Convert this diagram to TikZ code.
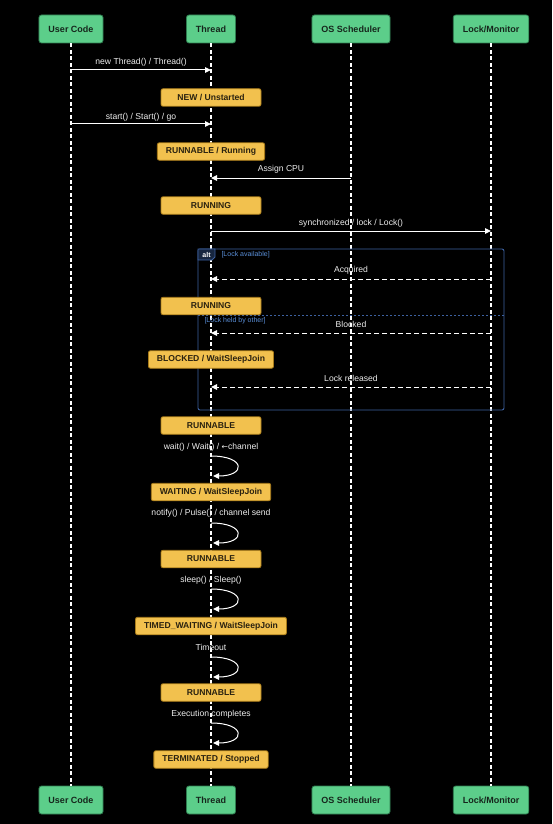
\documentclass[tikz,border=0pt]{standalone}
\usepackage{fontspec}
\setmainfont{Liberation Sans}
\newfontfamily\symfont{DejaVu Sans}
\usetikzlibrary{arrows.meta}
\definecolor{actorfill}{HTML}{5CCE8A}
\definecolor{actorline}{HTML}{2F7D50}
\definecolor{actortext}{HTML}{16261C}
\definecolor{statefill}{HTML}{F2C14E}
\definecolor{stateline}{HTML}{A87B1A}
\definecolor{statetext}{HTML}{2A2210}
\definecolor{msgtext}{HTML}{EDEDED}
\definecolor{altline}{HTML}{3D61A0}
\definecolor{altfill}{HTML}{17263F}
\definecolor{altblue}{HTML}{5A8FD8}

\begin{document}
\begin{tikzpicture}[x=1pt,y=-1pt,
  actor/.style={draw=actorline,fill=actorfill,rounded corners=2.5pt,line width=0.8pt,
    minimum height=28pt,inner xsep=9.5pt,text=actortext,font=\fontsize{9}{10}\selectfont\bfseries},
  state/.style={draw=stateline,fill=statefill,rounded corners=2pt,line width=0.8pt,
    minimum height=17.5pt,minimum width=100pt,inner xsep=8.5pt,text=statetext,
    font=\fontsize{8.6}{9}\selectfont\bfseries},
  life/.style={white,line width=1.1pt,dash pattern=on 4pt off 2.5pt},
  msg/.style={white,line width=1pt,-{Triangle[length=6pt,width=5.5pt]}},
  reply/.style={msg,dash pattern=on 5pt off 3pt},
  lbl/.style={text=msgtext,font=\fontsize{8.6}{9}\selectfont},
  cond/.style={text=altblue,anchor=west,font=\fontsize{7}{8}\selectfont},
]
\fill[black] (0,0) rectangle (552,824);
\useasboundingbox (0,0) rectangle (552,824);

% participants, top and bottom
\node[actor] (user) at (71,29) {User Code};
\node[actor] (thread) at (211,29) {Thread};
\node[actor] (os) at (351,29) {OS Scheduler};
\node[actor] (lock) at (491,29) {Lock/Monitor};
\node[actor] (userB) at (71,800) {User Code};
\node[actor] (threadB) at (211,800) {Thread};
\node[actor] (osB) at (351,800) {OS Scheduler};
\node[actor] (lockB) at (491,800) {Lock/Monitor};

\draw[life] (user.south) -- (userB.north);
\draw[life] (thread.south) -- (threadB.north);
\draw[life] (os.south) -- (osB.north);
\draw[life] (lock.south) -- (lockB.north);

% alt frame
\coordinate (F1) at (198,249);
\coordinate (F2) at (504,410);
\draw[altline,line width=0.9pt,rounded corners=2pt] (F1) rectangle (F2);
\filldraw[draw=altline,fill=altfill,line width=0.9pt] (F1) -- (215,249) -- (215,257) -- (212,260) -- (198,260) -- cycle;
\node[text=white,font=\fontsize{7}{8}\selectfont\bfseries] (alt) at (206.5,254.5) {alt};
\node[cond] (c1) at (218,254.5) {[Lock available]};
\draw[altline,line width=0.6pt,dash pattern=on 2pt off 2pt] (198,315) -- (504,315);
\node[cond] (c2) at (201,320.5) {[Lock held by other]};

% messages between lifelines
\coordinate (m1a) at (71,70);   \coordinate (m1b) at (211,70);
\coordinate (m2a) at (71,124);  \coordinate (m2b) at (211,124);
\coordinate (m3a) at (351,178); \coordinate (m3b) at (211,178);
\coordinate (m4a) at (211,231); \coordinate (m4b) at (491,231);
\coordinate (m5a) at (491,279); \coordinate (m5b) at (211,279);
\coordinate (m6a) at (491,333); \coordinate (m6b) at (211,333);
\coordinate (m7a) at (491,387); \coordinate (m7b) at (211,387);

\draw[msg] (m1a) -- (m1b);
\draw[msg] (m2a) -- (m2b);
\draw[msg] (m3a) -- (m3b);
\draw[msg] (m4a) -- (m4b);
\draw[reply] (m5a) -- (m5b);
\draw[reply] (m6a) -- (m6b);
\draw[reply] (m7a) -- (m7b);

\node[lbl] (t1) at (141,62) {new Thread() / Thread()};
\node[lbl] (t2) at (141,117) {start() / Start() / go};
\node[lbl] (t3) at (281,169) {Assign CPU};
\node[lbl] (t4) at (351,223) {synchronized / lock / Lock()};
\node[lbl] (t5) at (351,270) {Acquired};
\node[lbl] (t6) at (351,324) {Blocked};
\node[lbl] (t7) at (351,378) {Lock released};

% self loops on Thread
\coordinate (s1a) at (211,456); \coordinate (s1b) at (213,476);
\coordinate (s2a) at (211,523); \coordinate (s2b) at (213,543);
\coordinate (s3a) at (211,589); \coordinate (s3b) at (213,609);
\coordinate (s4a) at (211,657); \coordinate (s4b) at (213,677);
\coordinate (s5a) at (211,723); \coordinate (s5b) at (213,743);

\draw[msg] (s1a) .. controls (246,456) and (246,476) .. (s1b);
\draw[msg] (s2a) .. controls (246,523) and (246,543) .. (s2b);
\draw[msg] (s3a) .. controls (246,589) and (246,609) .. (s3b);
\draw[msg] (s4a) .. controls (246,657) and (246,677) .. (s4b);
\draw[msg] (s5a) .. controls (246,723) and (246,743) .. (s5b);

\node[lbl] (t8) at (211,447) {wait() / Wait() / {\symfont\fontsize{7.6}{9}\selectfont←}channel};
\node[lbl] (t9) at (211,513) {notify() / Pulse() / channel send};
\node[lbl] (t10) at (211,580) {sleep() / Sleep()};
\node[lbl] (t11) at (211,647) {Timeout};
\node[lbl] (t12) at (211,714) {Execution completes};

% thread states
\node[state] (new) at (211,97.5) {NEW / Unstarted};
\node[state] (runnable) at (211,151.5) {RUNNABLE / Running};
\node[state] (running) at (211,205.5) {RUNNING};
\node[state] (running2) at (211,306) {RUNNING};
\node[state] (blocked) at (211,359.5) {BLOCKED / WaitSleepJoin};
\node[state] (runnable2) at (211,425.5) {RUNNABLE};
\node[state] (waiting) at (211,492) {WAITING / WaitSleepJoin};
\node[state] (runnable3) at (211,559) {RUNNABLE};
\node[state] (timed) at (211,626) {TIMED\_WAITING / WaitSleepJoin};
\node[state] (runnable4) at (211,692.5) {RUNNABLE};
\node[state] (done) at (211,759.5) {TERMINATED / Stopped};

\end{tikzpicture}
\end{document}
